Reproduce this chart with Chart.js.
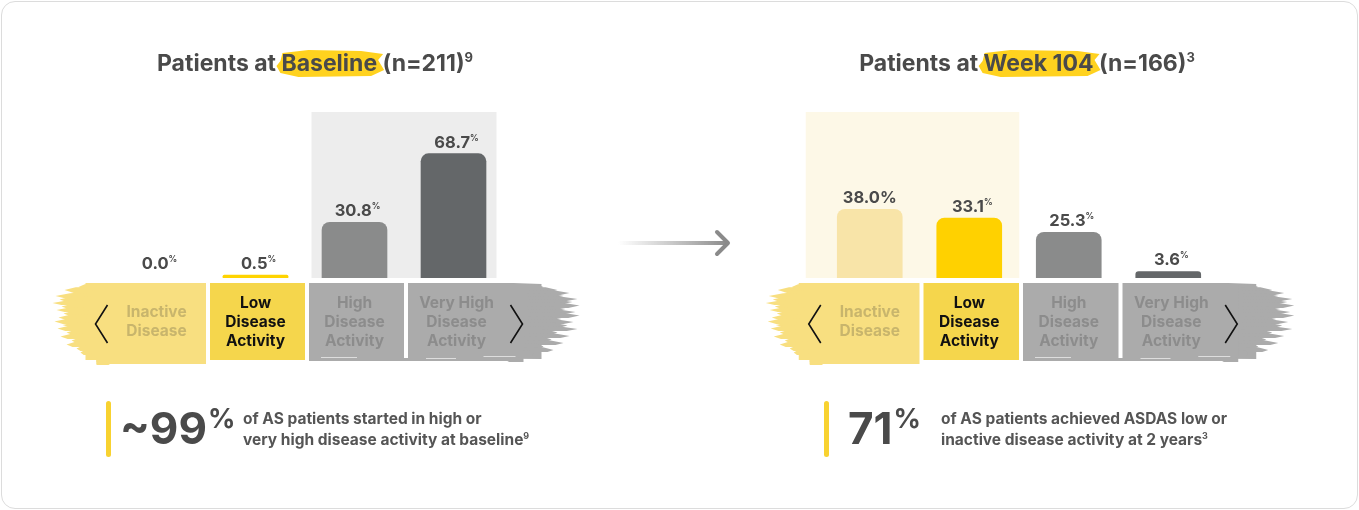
<!DOCTYPE html>
<html>
<head>
<meta charset="utf-8">
<script src="https://cdn.jsdelivr.net/npm/chart.js@4.4.1/dist/chart.umd.min.js"></script>
<style>
  html, body { margin: 0; padding: 0; background: #fff; }
  #card { position: absolute; left: 1px; top: 1px; width: 1355px; height: 506px; border: 1px solid #DCDCDC; border-radius: 14px; background: #fff; }
  canvas { position: absolute; left: 0; top: 0; }
</style>
</head>
<body>
<div id="card"></div>
<canvas id="baselineChart" width="1359" height="510"></canvas>
<canvas id="week104Chart" width="1359" height="510"></canvas>
<script>
// Categories (as they wrap inside the label strip)
const categoryLines = [['Inactive', 'Disease'], ['Low', 'Disease', 'Activity'], ['High', 'Disease', 'Activity'], ['Very High', 'Disease', 'Activity']];
const categories = categoryLines.map(l => l.join(' '));

// % of patients per ASDAS state
const baselineValues = [0.0, 0.5, 30.8, 68.7];
const week104Values = [38.0, 33.1, 25.3, 3.6];

// the 38.0% label in the source prints its % full size
const baselineFullPct = [false, false, false, false];
const week104FullPct = [true, false, false, false];

const baselineColors = ['rgba(0,0,0,0)', '#FFD400', '#8A8B8B', '#646769'];
const week104Colors = ['#F8E4A8', '#FFD100', '#8A8B8B', '#646769'];

const labelColors = ['#C8B56C', '#111111', '#8C8C8C', '#8C8C8C'];
const TEXT = '#4A4A4A';
const FONT = 'Inter, "Open Sans", sans-serif';

// draw text made of parts [{t, size, dy, color}] starting at x (or centred)
function drawParts(ctx, x, y, parts, align) {
    let total = 0;
    parts.forEach(p => { ctx.font = 'bold ' + p.size + 'px ' + FONT; p.w = ctx.measureText(p.t).width; total += p.w; });
    let cx = align === 'center' ? x - total / 2 : x;
    const spans = [];
    parts.forEach(p => {
        ctx.font = 'bold ' + p.size + 'px ' + FONT;
        ctx.fillStyle = p.color || TEXT;
        ctx.textAlign = 'left';
        ctx.textBaseline = 'alphabetic';
        if (p.draw !== false) ctx.fillText(p.t, cx, y + (p.dy || 0));
        spans.push([cx, cx + p.w]);
        cx += p.w;
    });
    return spans;
}

function brushBar(ctx, x0, x1, yTop, yBot, color) {
    ctx.fillStyle = color;
    ctx.beginPath();
    ctx.moveTo(x0 + 4, yTop + 2);
    ctx.lineTo(x0 + 30, yTop - 1);
    ctx.lineTo(x1 - 20, yTop);
    ctx.lineTo(x1 + 2, yTop + 3);
    ctx.lineTo(x1 - 3, yTop + 9);
    ctx.lineTo(x1 + 3, yBot - 6);
    ctx.lineTo(x1 - 10, yBot);
    ctx.lineTo(x0 + 20, yBot + 1);
    ctx.lineTo(x0 + 2, yBot - 3);
    ctx.lineTo(x0 - 2, yBot - 10);
    ctx.lineTo(x0 + 2, yTop + 10);
    ctx.closePath();
    ctx.fill();
}

function streak(ctx, xFixed, xTip, yT, yB) {
    const dir = xTip < xFixed ? 1 : -1;
    const len = Math.abs(xFixed - xTip);
    ctx.beginPath();
    ctx.moveTo(xFixed, yT);
    ctx.lineTo(xTip + dir * len * 0.35, yT + 0.3);
    ctx.lineTo(xTip, (yT + yB) / 2 + 0.5);
    ctx.lineTo(xTip + dir * len * 0.2, yB);
    ctx.lineTo(xFixed, yB);
    ctx.closePath();
    ctx.fill();
}

// ragged brush ends of the label strip (decoration): [top, bottom, tip offset]
const leftStreaks = [[284, 289, -78], [287, 292, -92], [290, 295, -86], [293, 298, -101], [296, 302, -97], [300, 305, -104], [303, 309, -95], [307, 312, -100], [310, 316, -93], [314, 320, -98], [318, 324, -102], [322, 327, -94], [325, 331, -99], [329, 335, -90], [333, 339, -96], [337, 343, -85], [341, 347, -90], [345, 351, -80], [349, 355, -76], [353, 359, -68], [357, 362, -58], [360, 365, -45]];
const rightStreaks = [[284, 289, 90], [287, 292, 104], [290, 295, 116], [293, 298, 110], [296, 301, 124], [299, 304, 119], [302, 308, 126], [306, 311, 112], [309, 314, 122], [312, 318, 126], [316, 321, 108], [319, 324, 120], [322, 328, 114], [326, 331, 124], [329, 335, 104], [333, 338, 116], [336, 342, 98], [340, 345, 110], [343, 349, 90], [347, 352, 100], [350, 356, 80], [354, 359, 70], [357, 362, 52]];

function drawStrip(ctx, xs) {
    const yT = 283, yB = 358;
    const b1 = (xs[0] + xs[1]) / 2 + 2, b2 = (xs[1] + xs[2]) / 2 + 2, b3 = (xs[2] + xs[3]) / 2 + 2;
    // yellow brush + inactive box
    ctx.fillStyle = '#F8DF80';
    ctx.fillRect(xs[0] - 71, yT, b1 - 2 - (xs[0] - 71), yB + 2 - yT);
    leftStreaks.forEach(s => streak(ctx, xs[0] - 60, xs[0] + s[2], s[0], s[1]));
    ctx.fillRect(xs[0] - 60, yB + 2, b1 - 2 - (xs[0] - 60), 4);
    // low box
    ctx.fillStyle = '#F5D64C';
    ctx.fillRect(b1 + 2, yT, b2 - b1 - 4, yB + 2 - yT);
    // high box
    ctx.fillStyle = '#ABABAB';
    ctx.fillRect(b2 + 2, yT, b3 - b2 - 4, yB - yT);
    // very high box + grey brush
    ctx.beginPath();
    ctx.moveTo(b3 + 2, yT);
    ctx.lineTo(xs[3] + 60, yT);
    ctx.lineTo(xs[3] + 88, yT + 1);
    ctx.lineTo(xs[3] + 88, yB + 1);
    ctx.lineTo(b3 + 2, yB);
    ctx.closePath();
    ctx.fill();
    rightStreaks.forEach(s => streak(ctx, xs[3] + 70, xs[3] + s[2], s[0], s[1]));
    ctx.fillRect(b2 + 2, yB, xs[3] + 60 - b2, 3);
    ctx.fillStyle = 'rgba(255,255,255,0.6)';
    [[b2 + 14, b2 + 50, 357], [b3 + 20, b3 + 50, 358], [xs[3] + 30, xs[3] + 62, 356]].forEach(w => ctx.fillRect(w[0], w[2], w[1] - w[0], 1));

    // labels
    categoryLines.forEach((lines, i) => {
        ctx.font = 'bold 15.5px ' + FONT;
        ctx.fillStyle = labelColors[i];
        ctx.textAlign = 'center';
        ctx.textBaseline = 'middle';
        const x = i === 3 ? xs[i] + 3 : xs[i];
        const y0 = 322 - (lines.length - 1) * 9.5;
        lines.forEach((t, k) => ctx.fillText(t, x, y0 + k * 19));
    });

    // chevrons
    ctx.strokeStyle = '#111';
    ctx.lineWidth = 1.6;
    ctx.beginPath();
    ctx.moveTo(xs[0] - 49, 305); ctx.lineTo(xs[0] - 61, 324); ctx.lineTo(xs[0] - 49, 343);
    ctx.stroke();
    ctx.beginPath();
    ctx.moveTo(xs[3] + 57, 305); ctx.lineTo(xs[3] + 69, 324); ctx.lineTo(xs[3] + 57, 343);
    ctx.stroke();
}

function makeChart(id, values, colors, fullPct, o) {
    const panelPlugin = {
        id: 'panel',
        beforeDatasetsDraw(chart) {
            const ctx = chart.ctx, x = chart.scales.x;
            ctx.save();
            ctx.fillStyle = o.panelColor;
            const l = x.getPixelForValue(o.panel[0]) - o.panelPad[0], r = x.getPixelForValue(o.panel[1]) + o.panelPad[1];
            ctx.fillRect(l, 112, r - l, chart.scales.y.getPixelForValue(0) - 112);
            ctx.restore();
        }
    };
    const decorPlugin = {
        id: 'decor',
        afterDatasetsDraw(chart) {
            const ctx = chart.ctx, meta = chart.getDatasetMeta(0);
            const xs = meta.data.map(b => b.x);
            ctx.save();
            // value labels
            meta.data.forEach((bar, i) => {
                const txt = values[i].toFixed(1);
                const y = bar.y - 6;
                if (fullPct[i]) drawParts(ctx, bar.x, y, [{ t: txt + '%', size: 16.5 }], 'center');
                else drawParts(ctx, bar.x + 3, y, [{ t: txt, size: 16.5 }, { t: '%', size: 8.5, dy: -7 }], 'center');
            });
            drawStrip(ctx, xs);

            // title with brush highlight
            const mid = (xs[0] + xs[3]) / 2 + o.titleShift;
            const parts = [{ t: 'Patients at ', size: 23 }, { t: o.hl, size: 23 }, { t: ' ' + o.n, size: 23 }, { t: o.sup, size: 13, dy: -9 }];
            const spans = drawParts(ctx, mid, 71, parts.map(p => Object.assign({}, p, { draw: false })), 'center');
            brushBar(ctx, spans[1][0] - 3, spans[1][1] + 4, 51, 76, '#FFD21F');
            drawParts(ctx, mid, 71, parts, 'center');

            // key takeaway
            ctx.fillStyle = '#F8D230';
            ctx.beginPath();
            ctx.roundRect(o.statX, 401, 5, 56, 2.5);
            ctx.fill();
            const big = drawParts(ctx, o.statX + o.bigGap, 444, [{ t: o.big, size: 44 }]);
            drawParts(ctx, big[0][1] + 1, 428, [{ t: '%', size: 27 }]);
            drawParts(ctx, o.statX + o.textGap, 424, [{ t: o.lines[0], size: 15.5, color: '#555555' }]);
            drawParts(ctx, o.statX + o.textGap, 445, [{ t: o.lines[1], size: 15.5, color: '#555555' }, { t: o.sup, size: 9, dy: -6, color: '#555555' }]);

            if (o.arrow) {
                const g = ctx.createLinearGradient(618, 0, 728, 0);
                g.addColorStop(0, 'rgba(150,150,150,0)');
                g.addColorStop(1, '#8A8A8A');
                ctx.strokeStyle = g;
                ctx.lineWidth = 4;
                ctx.beginPath(); ctx.moveTo(618, 243); ctx.lineTo(727, 243); ctx.stroke();
                ctx.strokeStyle = '#8A8A8A';
                ctx.lineCap = 'round';
                ctx.lineJoin = 'round';
                ctx.beginPath(); ctx.moveTo(717, 232); ctx.lineTo(728, 243); ctx.lineTo(717, 254); ctx.stroke();
            }
            ctx.restore();
        }
    };
    return new Chart(document.getElementById(id), {
        type: 'bar',
        data: {
            labels: categories,
            datasets: [{
                data: values,
                backgroundColor: colors,
                barThickness: 65,
                borderRadius: { topLeft: 8, topRight: 8, bottomLeft: 0, bottomRight: 0 },
                borderSkipped: false,
                minBarLength: o.minBar
            }]
        },
        options: {
            responsive: false,
            animation: false,
            devicePixelRatio: 1,
            layout: { padding: { left: o.left, right: 1359 - o.right, top: 97, bottom: 232 } },
            plugins: { legend: { display: false }, tooltip: { enabled: false } },
            scales: {
                x: { display: false },
                y: { display: false, min: 0, max: 100 }
            }
        },
        plugins: [panelPlugin, decorPlugin]
    });
}

Chart.defaults.font.family = FONT;

makeChart('baselineChart', baselineValues, baselineColors, baselineFullPct, {
    left: 107, right: 503, panel: [2, 3], panelPad: [43, 43], panelColor: '#EDEDED', minBar: 3,
    hl: 'Baseline', n: '(n=211)', sup: '9', titleShift: 10,
    statX: 106, bigGap: 14, textGap: 137, big: '~99',
    lines: ['of AS patients started in high or', 'very high disease activity at baseline'],
    arrow: true
});
makeChart('week104Chart', week104Values, week104Colors, week104FullPct, {
    left: 820, right: 1218, panel: [0, 1], panelPad: [64, 50], panelColor: '#FDF8E7', minBar: 0,
    hl: 'Week 104', n: '(n=166)', sup: '3', titleShift: 8,
    statX: 824, bigGap: 24, textGap: 117, big: '71',
    lines: ['of AS patients achieved ASDAS low or', 'inactive disease activity at 2 years'],
    arrow: false
});
</script>
</body>
</html>
